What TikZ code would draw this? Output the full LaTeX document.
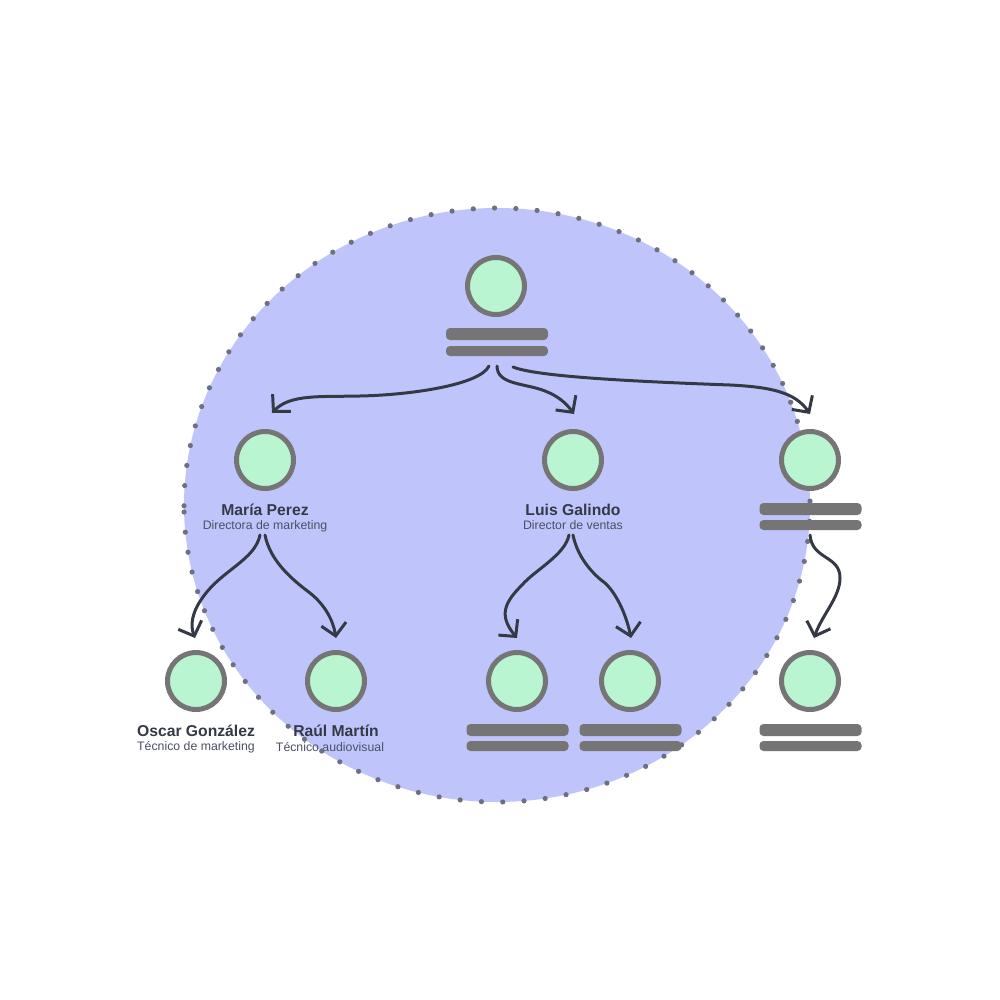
\documentclass[tikz,border=0pt]{standalone}
\usepackage{fontspec}
\setmainfont{Liberation Sans}
\usetikzlibrary{arrows.meta}
\definecolor{blob}{HTML}{BFC5FB}
\definecolor{ring}{HTML}{757575}
\definecolor{mint}{HTML}{B8F5D0}
\definecolor{dotc}{HTML}{6E7080}
\definecolor{ink}{HTML}{353945}
\definecolor{subink}{HTML}{4C5064}
\tikzset{
  x=1pt,y=-1pt,
  person/.style={circle,draw=ring,fill=mint,line width=5pt,minimum size=57pt,inner sep=0pt,outer sep=0pt},
  barA/.style={rectangle,rounded corners=4pt,fill=ring,minimum width=102pt,minimum height=12pt,inner sep=0pt,outer sep=0pt},
  barB/.style={rectangle,rounded corners=4pt,fill=ring,minimum width=102pt,minimum height=10pt,inner sep=0pt,outer sep=0pt},
  nametxt/.style={anchor=base,text=ink,font=\fontsize{15.7}{16}\selectfont\bfseries,inner sep=0pt},
  roletxt/.style={anchor=base,text=subink,font=\fontsize{12.3}{13}\selectfont,inner sep=0pt},
  link/.style={draw=ink,line width=3pt,line cap=round,-{Straight Barb[length=12pt,width=25pt,line width=3pt]}},
}
\begin{document}
\begin{tikzpicture}
\useasboundingbox[fill=white] (0,0) rectangle (1000,1000);
\fill[blob] (497,505) ellipse [x radius=313pt,y radius=297pt];
% labels
\node[nametxt] (n2) at (265,515.5) {María Perez};
\node[roletxt] (r2) at (265,529) {Directora de marketing};
\node[nametxt] (n3) at (573,515.5) {Luis Galindo};
\node[roletxt] (r3) at (573,529) {Director de ventas};
\node[nametxt] (n5) at (196,736.5) {Oscar González};
\node[roletxt] (r5) at (196,750.5) {Técnico de marketing};
\node[nametxt] (n6) at (336,736.5) {Raúl Martín};
\node[roletxt] (r6) at (330,751) {Técnico audiovisual};
% dotted outline
\foreach \i in {0,...,92}{
  \fill[dotc] ({497+313*cos(178.65-3.9*\i)},{505+297*sin(178.65-3.9*\i)}) circle (2.6pt);
}
% people
\node[person] (p1) at (496,286) {};
\node[person] (p2) at (265,460) {};
\node[person] (p3) at (573,460) {};
\node[person] (p4) at (810,460) {};
\node[person] (p5) at (196,681) {};
\node[person] (p6) at (336,681) {};
\node[person] (p7) at (517,681) {};
\node[person] (p8) at (630,681) {};
\node[person] (p9) at (810,681) {};
% placeholder bars
\node[barA] (a1) at (497,334) {};
\node[barB] (b1) at (497,351) {};
\node[barA] (a4) at (810.5,509) {};
\node[barB] (b4) at (810.5,525) {};
\node[barA] (a7) at (517.5,730) {};
\node[barB] (b7) at (517.5,746) {};
\node[barA] (a8) at (630.5,730) {};
\node[barB] (b8) at (630.5,746) {};
\node[barA] (a9) at (810.5,730) {};
\node[barB] (b9) at (810.5,746) {};
% connector ends
\coordinate (s12) at (489,366);
\coordinate (s13) at (497,366);
\coordinate (s14) at (513,367);
\coordinate (e12) at (272,413);
\coordinate (e13) at (574,414);
\coordinate (e14) at (810,414);
\coordinate (s25) at (260,535);
\coordinate (s26) at (265,535);
\coordinate (e25) at (195,638);
\coordinate (e26) at (336,638);
\coordinate (s37) at (569,535);
\coordinate (s38) at (573,535);
\coordinate (e37) at (517,638);
\coordinate (e38) at (631,638);
\coordinate (s49) at (810,535);
\coordinate (e49) at (814,638);
% connectors
\draw[link] (s12) .. controls (480,385) and (410,395) .. (360,396) .. controls (320,397) and (290,394) .. (e12);
\draw[link] (s13) .. controls (497,385) and (525,383) .. (545,391) .. controls (558,396) and (566,403) .. (e13);
\draw[link] (s14) .. controls (535,376) and (620,381) .. (730,385) .. controls (770,387) and (795,392) .. (e14);
\draw[link] (s25) .. controls (255,560) and (222,570) .. (203,597) .. controls (192,612) and (190,625) .. (e25);
\draw[link] (s26) .. controls (270,560) and (290,578) .. (310,593) .. controls (325,605) and (333,620) .. (e26);
\draw[link] (s37) .. controls (565,555) and (535,570) .. (522,585) .. controls (505,602) and (498,615) .. (e37);
\draw[link] (s38) .. controls (577,555) and (590,572) .. (605,583) .. controls (618,595) and (627,618) .. (e38);
\draw[link] (s49) .. controls (812,560) and (840,555) .. (840,578) .. controls (840,597) and (822,615) .. (e49);
\end{tikzpicture}
\end{document}
